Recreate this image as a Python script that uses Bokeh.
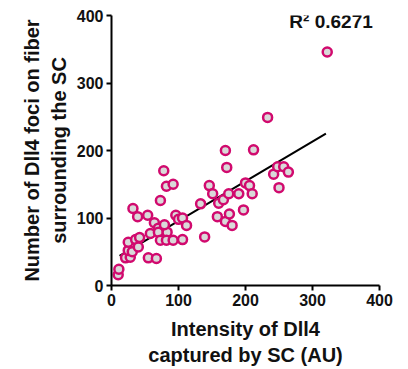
from bokeh.plotting import figure
from bokeh.models import Range1d, Label, ColumnDataSource, FixedTicker
from bokeh.embed import file_html
from bokeh.resources import INLINE

# data
intensity = [10, 11, 21, 28, 25, 31, 25, 36, 40, 42, 32, 39, 54, 55, 67, 58, 64, 70, 70, 73,
             83, 79, 82, 92, 106, 73, 78, 82, 92, 96, 100, 106, 112, 133, 139, 146, 151, 158,
             160, 167, 170, 172, 175, 170, 176, 180, 190, 197, 200, 206, 210, 212, 233, 242,
             248, 257, 264, 250, 322]
foci = [16, 24, 41, 42, 52, 50, 64, 68, 57, 71, 114, 102, 104, 41, 40, 77, 93, 85, 79, 67,
        79, 90, 67, 67, 68, 126, 170, 147, 150, 104, 98, 100, 89, 121, 72, 148, 136, 102,
        122, 127, 200, 175, 136, 95, 106, 89, 136, 112, 152, 148, 136, 201, 249, 165,
        176, 176, 168, 145, 346]
fit_x = [12, 320]
fit_y = [44, 225]
ticks = [0, 100, 200, 300, 400]
r2_text = "R\u00b2 0.6271"

FONT = "Liberation Sans"

p = figure(width=408, height=369, output_backend="svg", toolbar_location=None,
           x_range=Range1d(0, 400), y_range=Range1d(0, 400),
           min_border_left=111, min_border_right=29, min_border_top=15, min_border_bottom=84)
p.outline_line_color = None
p.xgrid.visible = False
p.ygrid.visible = False
p.background_fill_color = "white"
p.border_fill_color = "white"

p.line(fit_x, fit_y, line_color="black", line_width=2)
src = ColumnDataSource(dict(x=intensity, y=foci))
p.scatter("x", "y", source=src, size=9, fill_color="#d9d9d9", line_color="#d10a6e",
          line_width=2.5)

for ax in (p.xaxis[0], p.yaxis[0]):
    ax.ticker = FixedTicker(ticks=ticks)
    ax.axis_line_width = 2
    ax.axis_line_color = "black"
    ax.major_tick_line_width = 2
    ax.major_tick_line_color = "black"
    ax.major_tick_out = 5
    ax.major_tick_in = 0
    ax.minor_tick_line_color = None
    ax.major_label_text_font = FONT
    ax.major_label_text_font_style = "bold"
    ax.major_label_text_font_size = "16px"
    ax.major_label_text_color = "#111111"
    ax.axis_label_text_font = FONT
    ax.axis_label_text_font_style = "bold"
    ax.axis_label_text_color = "#111111"
    ax.major_label_standoff = 3

p.xaxis[0].axis_label = "Intensity of Dll4\ncaptured by SC (AU)"
p.yaxis[0].axis_label = "Number of Dll4 foci on fiber\nsurrounding the SC"
p.xaxis[0].axis_label_text_font_size = "20px"
p.yaxis[0].axis_label_text_font_size = "20px"
p.xaxis[0].axis_label_standoff = 9
p.yaxis[0].axis_label_standoff = 4

p.add_layout(Label(x=390, y=406, text=r2_text, level="overlay",
                   text_font=FONT, text_font_style="bold", text_font_size="19px",
                   text_align="right", text_baseline="top", text_color="#111111"))

open("out.html", "w").write(file_html(p, INLINE))
